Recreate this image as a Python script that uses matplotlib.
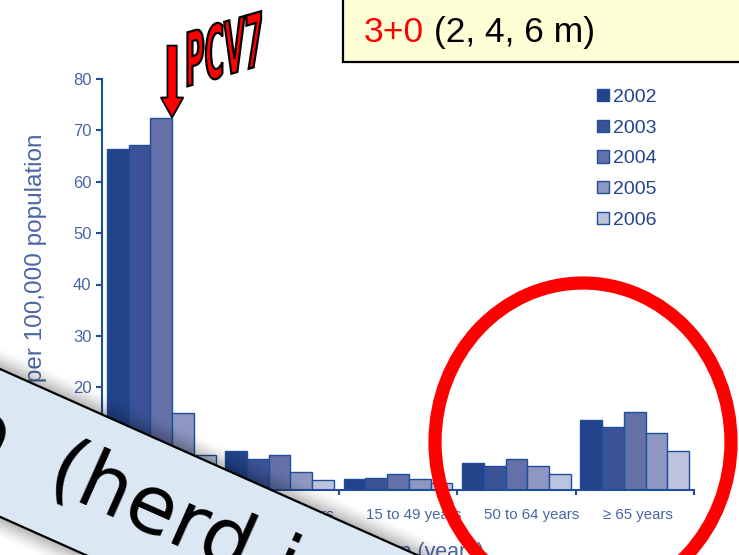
import numpy as np
import matplotlib
matplotlib.use('Agg')
import matplotlib.pyplot as plt
import matplotlib.patches as mpatches
from matplotlib.textpath import TextPath
from matplotlib.font_manager import FontProperties
from matplotlib.transforms import Affine2D

plt.rcParams['font.family'] = ['Liberation Sans', 'DejaVu Sans']

# dados (incidencia por 100.000)
age_groups = ['< 5 years', '5 to 14 years', '15 to 49 years', '50 to 64 years', '\u2265 65 years']
years = ['2002', '2003', '2004', '2005', '2006']
rate_2002 = [66.3, 7.5, 2.1, 5.2, 13.6]
rate_2003 = [67.1, 6.0, 2.4, 4.7, 12.3]
rate_2004 = [72.5, 6.8, 3.2, 6.0, 15.2]
rate_2005 = [15.0, 3.6, 2.1, 4.7, 11.0]
rate_2006 = [6.8, 1.9, 1.3, 3.2, 7.5]
rates = [rate_2002, rate_2003, rate_2004, rate_2005, rate_2006]
bar_colors = ['#23438a', '#3b5396', '#6470a7', '#8d97c1', '#bcc3de']
y_ticks = [0, 10, 20, 30, 40, 50, 60, 70, 80]

W, H = 739, 555
edge_blue = '#1f4e9a'
label_blue = '#4a66a3'

fig = plt.figure(figsize=(W / 100, H / 100), dpi=100)
fig.patch.set_facecolor('white')

# grafico de barras
ax = fig.add_axes([102 / W, 1 - 490 / H, 592 / W, 411 / H])
w = 0.184
x = np.arange(len(age_groups))
for j, (yr, vals) in enumerate(zip(years, rates)):
    ax.bar(x + 0.5 + (j - 2) * w, vals, width=w, color=bar_colors[j],
           edgecolor=edge_blue, linewidth=1.0, label=yr)

ax.set_xlim(0, 5)
ax.set_ylim(0, 80)
ax.set_yticks(y_ticks)
ax.set_xticks(range(6))
ax.set_xticklabels([])
for s in ['top', 'right']:
    ax.spines[s].set_visible(False)
for s in ['left', 'bottom']:
    ax.spines[s].set_color(edge_blue)
    ax.spines[s].set_linewidth(1.5)
ax.tick_params(axis='y', color=edge_blue, labelcolor=label_blue, labelsize=12,
               length=4.5, width=1.5, pad=3)
ax.tick_params(axis='x', color=edge_blue, length=3.8, width=1.5)

xt = ax.get_xaxis_transform()
for i, g in enumerate(age_groups):
    ax.text(i + 0.228, -0.0706, g, transform=xt, ha='left', va='baseline',
            fontsize=10.8, color=label_blue)
ax.text(0.5, -0.165, 'Age group (years)', transform=ax.transAxes, ha='center',
        va='baseline', fontsize=15.5, color=label_blue, clip_on=False)
fig.text(36 / W, 1 - 133 / H, 'Rate per 100,000 population', rotation=90,
         ha='center', va='top', fontsize=17.5, color=label_blue)

ax.legend(loc='upper left', bbox_to_anchor=(597 / W, 1 - 89 / H),
          bbox_transform=fig.transFigure, frameon=False, fontsize=14,
          handlelength=0.6, handleheight=0.6, handletextpad=0.2,
          labelspacing=0.7, borderpad=0, borderaxespad=0, labelcolor='#23438c')

# seta do PCV7 apontando para a barra de 2004
tip_x = 0.5 + w / 2
arrow = mpatches.FancyArrow(tip_x, rate_2004[0] + 14.0, 0, -14.0, width=0.078,
                            head_width=0.19, head_length=3.9,
                            length_includes_head=True, fc='red', ec='black',
                            lw=1.3, clip_on=False, zorder=10)
ax.add_patch(arrow)

# camada de sobreposicao em pixels
ov = fig.add_axes([0, 0, 1, 1], zorder=5)
ov.set_xlim(0, W)
ov.set_ylim(H, 0)
ov.axis('off')
ov.patch.set_alpha(0)

# caixa amarela
ov.add_patch(mpatches.Rectangle((343, -20), 500, 82, fc='#ffffd6', ec='black', lw=1.6))
t1 = ov.text(364, 42, '3+0', color='red', fontsize=25.5, va='baseline', ha='left')
ov.annotate(' (2, 4, 6 m)', xy=(1, 0), xycoords=t1, va='bottom', ha='left',
            fontsize=25.5, color='black')

# texto PCV7
fp = FontProperties(family='DejaVu Sans', weight='bold')
tp = TextPath((0, 0), 'PCV7', size=74, prop=fp)
tr = Affine2D().scale(0.36, 1).skew_deg(0, 16).scale(1, -1).translate(185, 87)
ov.add_patch(mpatches.PathPatch(tr.transform_path(tp), fc='red', ec='black', lw=1.6))

# circulo vermelho
ov.add_patch(mpatches.Ellipse((583, 442), 296, 318, fill=False, ec='red', lw=9.5))

# faixa azul (herd immunity)
theta = np.arctan(0.446)
d = np.array([np.cos(theta), np.sin(theta)])
n = np.array([-np.sin(theta), np.cos(theta)])
A = np.array([0.0, 369.0])
band_h = 135


def strip(off0, off1):
    p0 = A - 300 * d
    p1 = A + 1200 * d
    return np.array([p0 + off0 * n, p1 + off0 * n, p1 + off1 * n, p0 + off1 * n])


for k in range(20):
    a = 0.3 * (1 - k / 20) ** 1.5
    ov.add_patch(mpatches.Polygon(strip(-k - 1, -k), fc='black', ec='none', alpha=a))
    ov.add_patch(mpatches.Polygon(strip(band_h + k, band_h + k + 1), fc='black',
                                  ec='none', alpha=a))
ov.add_patch(mpatches.Polygon(strip(0, band_h), fc='#dce7f4', ec='black', lw=1.6))

P = (44, 486)
rot = -np.degrees(theta)
ov.text(P[0], P[1], '(herd immunity)', rotation=rot, rotation_mode='anchor',
        ha='left', va='baseline', fontsize=58, color='black', family='DejaVu Sans')
ov.text(P[0], P[1], 'No  ', rotation=rot, rotation_mode='anchor',
        ha='right', va='baseline', fontsize=58, color='black', family='DejaVu Sans')

fig.savefig('out.png', dpi=100)
